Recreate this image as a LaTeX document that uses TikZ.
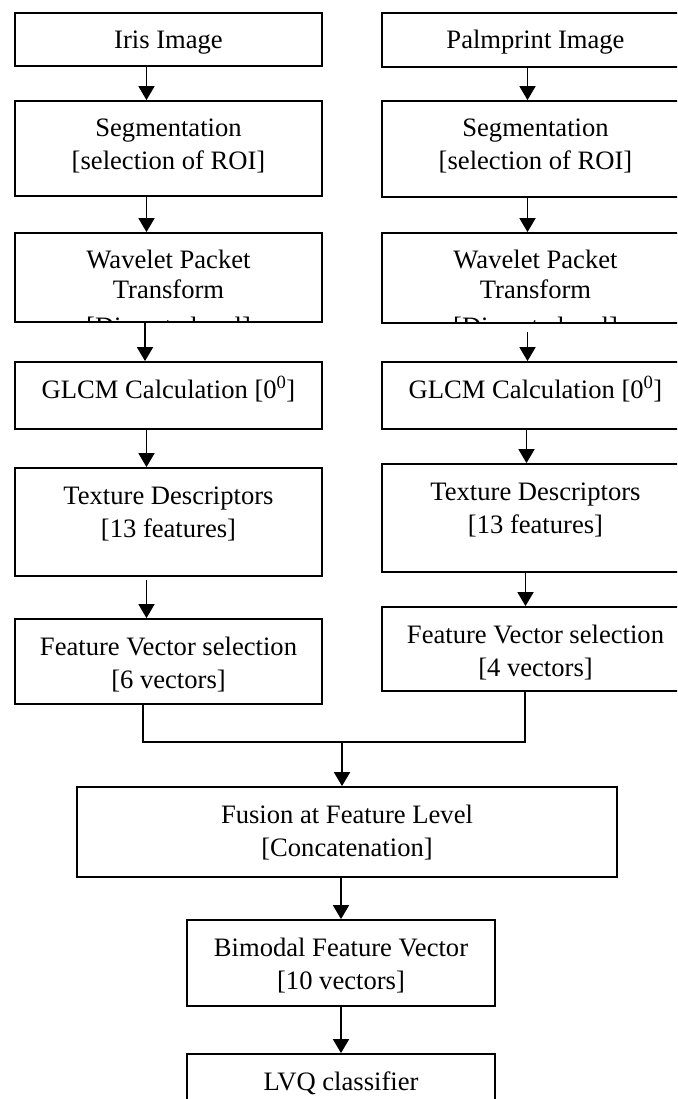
\documentclass[tikz,border=0pt]{standalone}
\usepackage{fontspec}
\setmainfont{Liberation Serif}
\usetikzlibrary{arrows.meta}
\newcommand\mytext[1]{\begin{tabular}[t]{@{}c@{}}#1\end{tabular}}
\begin{document}
\begin{tikzpicture}[x=1pt,y=-1pt,
  box/.style={draw, line width=1.8pt, rectangle, inner sep=0pt},
  txt/.style={anchor=base, inner sep=0pt, font=\fontsize{26.6}{33}\selectfont},
  arr/.style={line width=1.8pt, -{Triangle[length=14pt,width=16pt]}},
  ln/.style={line width=1.8pt}]
\useasboundingbox (0,0) rectangle (677,1099);
\clip (0,0) rectangle (677,1099);
\fill[white] (0,0) rectangle (677,1099);

% left column
\node[box, minimum width=307pt, minimum height=53pt] (iris) at (168.5,39.5) {};
\node[txt] (irist) at (168.5,49) {Iris Image};
\node[box, minimum width=307pt, minimum height=95pt] (segL) at (168.5,148.5) {};
\node[txt] (segLt) at (168.5,137) {\mytext{Segmentation\\{}[selection of ROI]}};
\node[box, minimum width=307pt, minimum height=89pt] (wavL) at (168.5,277.5) {};
\begin{scope}
  \clip (wavL.north west) rectangle (wavL.south east);
  \node[txt] (wavLt) at (168.5,268) {\mytext{Wavelet Packet\\[-3pt]Transform\\[4pt]{}[Discrete level]}};
\end{scope}
\node[box, minimum width=307pt, minimum height=67pt] (glcmL) at (168.5,395.5) {};
\node[txt] (glcmLt) at (168.5,398) {GLCM Calculation [0\textsuperscript{0}]};
\node[box, minimum width=307pt, minimum height=108pt] (texL) at (168.5,522) {};
\node[txt] (texLt) at (168.5,504) {\mytext{Texture Descriptors\\{}[13 features]}};
\node[box, minimum width=307pt, minimum height=85pt] (fvL) at (168.5,661.5) {};
\node[txt] (fvLt) at (168.5,655) {\mytext{Feature Vector selection\\{}[6 vectors]}};

% right column
\node[box, minimum width=307pt, minimum height=54pt] (palm) at (535.5,40) {};
\node[txt] (palmt) at (535.5,49) {Palmprint Image};
\node[box, minimum width=307pt, minimum height=96pt] (segR) at (535.5,149) {};
\node[txt] (segRt) at (535.5,137) {\mytext{Segmentation\\{}[selection of ROI]}};
\node[box, minimum width=307pt, minimum height=90pt] (wavR) at (535.5,278) {};
\begin{scope}
  \clip (wavR.north west) rectangle (wavR.south east);
  \node[txt] (wavRt) at (535.5,268) {\mytext{Wavelet Packet\\[-3pt]Transform\\[4pt]{}[Discrete level]}};
\end{scope}
\node[box, minimum width=307pt, minimum height=67pt] (glcmR) at (535.5,395.5) {};
\node[txt] (glcmRt) at (535.5,398) {GLCM Calculation [0\textsuperscript{0}]};
\node[box, minimum width=307pt, minimum height=108pt] (texR) at (535.5,518) {};
\node[txt] (texRt) at (535.5,500) {\mytext{Texture Descriptors\\{}[13 features]}};
\node[box, minimum width=307pt, minimum height=84pt] (fvR) at (535.5,649) {};
\node[txt] (fvRt) at (535.5,643) {\mytext{Feature Vector selection\\{}[4 vectors]}};

% bottom
\node[box, minimum width=540pt, minimum height=90pt] (fus) at (347,832) {};
\node[txt] (fust) at (347,823) {\mytext{Fusion at Feature Level\\{}[Concatenation]}};
\node[box, minimum width=308pt, minimum height=86pt] (bim) at (341,963) {};
\node[txt] (bimt) at (341,956) {\mytext{Bimodal Feature Vector\\{}[10 vectors]}};
\node[box, minimum width=308pt, minimum height=86pt] (lvq) at (341,1097) {};
\node[txt] (lvqt) at (341,1090) {LVQ classifier};

% connectors left
\draw[arr] ([xshift=-22pt]iris.south) -- ([xshift=-22pt]segL.north);
\draw[arr] ([xshift=-22pt]segL.south) -- ([xshift=-22pt]wavL.north);
\draw[arr] ([xshift=-23.5pt]wavL.south) -- ([xshift=-23.5pt]glcmL.north);
\draw[arr] ([xshift=-22pt]glcmL.south) -- ([xshift=-22pt]texL.north);
\draw[arr] ([xshift=-22pt,yshift=-3pt]texL.south) -- ([xshift=-22pt]fvL.north);
% connectors right
\draw[arr] ([xshift=-8pt]palm.south) -- ([xshift=-8pt]segR.north);
\draw[arr] ([xshift=-8pt]segR.south) -- ([xshift=-8pt]wavR.north);
\draw[arr] ([xshift=-8pt,yshift=-8pt]wavR.south) -- ([xshift=-8pt]glcmR.north);
\draw[arr] ([xshift=-9pt]glcmR.south) -- ([xshift=-9pt]texR.north);
\draw[arr] ([xshift=-10pt]texR.south) -- ([xshift=-10pt]fvR.north);
% merge
\coordinate (m) at (342,742);
\draw[ln] ([xshift=-25.5pt]fvL.south) |- (m);
\draw[ln] ([xshift=-10.5pt]fvR.south) |- (m);
\draw[arr] (m) -- (m |- fus.north);
\draw[arr] ([xshift=-6pt]fus.south) -- (bim.north);
\draw[arr] (bim.south) -- (lvq.north);
\end{tikzpicture}
\end{document}
